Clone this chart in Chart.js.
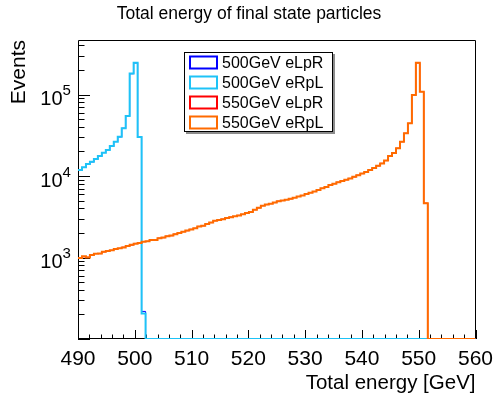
<!DOCTYPE html>
<html>
<head>
<meta charset="utf-8">
<script src="https://cdn.jsdelivr.net/npm/chart.js@4.4.1/dist/chart.umd.min.js"></script>
<style>
  html, body { margin: 0; padding: 0; background: #fff; }
  canvas { display: block; }
</style>
</head>
<body>
<canvas id="energyHist" width="496" height="396"></canvas>
<script>
// histogram binning: 100 bins from 490 to 560 GeV
const binLow = 490
const binWidth = 0.7
const nBins = 100

const seriesLabels = ['500GeV eLpR', '500GeV eRpL', '550GeV eLpR', '550GeV eRpL']
const seriesColors = ['#0000ff', '#1ec3f7', '#ff0000', '#ff6a00']
// eLpR curves sit almost exactly under the eRpL ones
const seriesWidths = [1, 2, 1, 2]

const counts500LR = [
  11900, 12750, 14100, 14900, 16250, 17500, 19400, 20900, 23200, 26500,
  30200, 38600, 54200, 180000, 244000, 30300, 218, 0, 0, 0,
  0, 0, 0, 0, 0, 0, 0, 0, 0, 0,
  0, 0, 0, 0, 0, 0, 0, 0, 0, 0,
  0, 0, 0, 0, 0, 0, 0, 0, 0, 0,
  0, 0, 0, 0, 0, 0, 0, 0, 0, 0,
  0, 0, 0, 0, 0, 0, 0, 0, 0, 0,
  0, 0, 0, 0, 0, 0, 0, 0, 0, 0,
  0, 0, 0, 0, 0, 0, 0, 0, 0, 0,
  0, 0, 0, 0, 0, 0, 0, 0, 0, 0
]
const counts500RL = [
  11850, 12790, 14030, 14970, 16170, 17590, 19320, 20840, 23330, 26370,
  30350, 38470, 54490, 181100, 245500, 30100, 205, 0, 0, 0,
  0, 0, 0, 0, 0, 0, 0, 0, 0, 0,
  0, 0, 0, 0, 0, 0, 0, 0, 0, 0,
  0, 0, 0, 0, 0, 0, 0, 0, 0, 0,
  0, 0, 0, 0, 0, 0, 0, 0, 0, 0,
  0, 0, 0, 0, 0, 0, 0, 0, 0, 0,
  0, 0, 0, 0, 0, 0, 0, 0, 0, 0,
  0, 0, 0, 0, 0, 0, 0, 0, 0, 0,
  0, 0, 0, 0, 0, 0, 0, 0, 0, 0
]
const counts550LR = [
  975, 1020, 1010, 1060, 1120, 1115, 1170, 1210, 1225, 1280,
  1295, 1340, 1390, 1420, 1490, 1505, 1570, 1580, 1620, 1650,
  1730, 1750, 1830, 1850, 1940, 1990, 2075, 2130, 2220, 2280,
  2410, 2450, 2580, 2680, 2830, 2870, 2960, 3040, 3140, 3190,
  3290, 3380, 3520, 3620, 3860, 4060, 4330, 4460, 4590, 4720,
  4910, 5000, 5150, 5240, 5450, 5610, 5770, 6010, 6260, 6450,
  6780, 7060, 7350, 7740, 8060, 8390, 8730, 9000, 9350, 9750,
  10250, 10700, 11250, 11870, 12620, 13310, 14320, 15460, 17620, 19100,
  21930, 26320, 33480, 44300, 98400, 244000, 108500, 4650, 0, 0,
  0, 0, 0, 0, 0, 0, 0, 0, 0, 0
]
const counts550RL = [
  986, 1040, 1000, 1070, 1110, 1120, 1175, 1200, 1230, 1275,
  1300, 1330, 1380, 1430, 1480, 1510, 1560, 1585, 1640, 1645,
  1720, 1760, 1820, 1860, 1930, 1995, 2065, 2140, 2210, 2290,
  2400, 2455, 2570, 2690, 2820, 2885, 2950, 3055, 3125, 3200,
  3275, 3390, 3510, 3630, 3845, 4075, 4315, 4470, 4570, 4730,
  4900, 5010, 5130, 5250, 5430, 5620, 5750, 6030, 6240, 6460,
  6760, 7080, 7330, 7760, 8040, 8410, 8710, 9020, 9330, 9770,
  10230, 10720, 11220, 11890, 12590, 13340, 14290, 15490, 17580, 19150,
  21880, 26370, 33400, 44400, 98700, 245000, 108000, 4620, 0, 0,
  0, 0, 0, 0, 0, 0, 0, 0, 0, 0
]

const xTickValues = [490, 500, 510, 520, 530, 540, 550, 560]
const yTickValues = [1e3, 1e4, 1e5]
const yTickExponents = ['3', '4', '5']

const yMin = 100
const yMax = 4.67e5
const fontFamily = '"Liberation Sans", Arial, Helvetica, sans-serif'

// step outline: one point per bin low edge, plus the last high edge
function histPoints(counts) {
  const pts = counts.map((c, i) => ({ x: binLow + i * binWidth, y: c > 0 ? c : yMin }))
  const last = counts[nBins - 1]
  pts.push({ x: binLow + nBins * binWidth, y: last > 0 ? last : yMin })
  return pts
}

const allCounts = [counts500LR, counts500RL, counts550LR, counts550RL]

const datasets = allCounts.map((counts, i) => ({
  label: seriesLabels[i],
  data: histPoints(counts),
  borderColor: seriesColors[i],
  backgroundColor: seriesColors[i],
  borderWidth: seriesWidths[i],
  pointRadius: 0,
  stepped: true,
  fill: false,
  borderJoinStyle: 'miter',
  order: 3 - i
}))

// ROOT-like frame, inward ticks, 10^n labels, titles and the boxed legend
const framePlugin = {
  id: 'frame',
  beforeDatasetsDraw(chart) {
    const { ctx, chartArea: a, scales: { x, y } } = chart
    ctx.save()
    ctx.strokeStyle = '#000'
    ctx.lineWidth = 1
    ctx.beginPath()
    ctx.rect(Math.round(a.left) + 0.5, Math.round(a.top) + 0.5,
      Math.round(a.right - a.left) - 1, Math.round(a.bottom - a.top) - 1)
    ctx.stroke()
    ctx.beginPath()
    for (let v = 490; v <= 560; v += 2) {
      const px = Math.round(x.getPixelForValue(v)) + 0.5
      const len = (v % 10 === 0) ? 9 : 4.5
      ctx.moveTo(px, a.bottom)
      ctx.lineTo(px, a.bottom - len)
    }
    for (let e = 2; e <= 5; e++) {
      for (let m = 1; m <= 9; m++) {
        const v = m * Math.pow(10, e)
        if (v < yMin || v > yMax) continue
        const py = Math.round(y.getPixelForValue(v)) + 0.5
        const len = m === 1 ? 12 : 6.5
        ctx.moveTo(a.left, py)
        ctx.lineTo(a.left + len, py)
      }
    }
    ctx.stroke()

    // y tick labels as 10 with a raised exponent
    ctx.fillStyle = '#000'
    yTickValues.forEach((v, i) => {
      const py = y.getPixelForValue(v)
      ctx.font = '20px ' + fontFamily
      ctx.textAlign = 'right'
      ctx.textBaseline = 'alphabetic'
      ctx.fillText('10', a.left - 15.5, py + 10.5)
      ctx.font = '15px ' + fontFamily
      ctx.textAlign = 'left'
      ctx.fillText(yTickExponents[i], a.left - 15.5, py + 0.5)
    })

    // x axis title, right aligned to the frame
    ctx.font = '20.5px ' + fontFamily
    ctx.textAlign = 'right'
    ctx.textBaseline = 'middle'
    ctx.fillText('Total energy [GeV]', a.right, 383)

    // plot title
    ctx.font = '17.5px ' + fontFamily
    ctx.textAlign = 'center'
    ctx.fillText('Total energy of final state particles', 249, 14)
    ctx.restore()
  },
  afterDraw(chart) {
    const { ctx } = chart
    const lx = 184, ly = 52, lw = 149, lh = 80
    ctx.save()
    ctx.fillStyle = '#8c8c8c'
    ctx.fillRect(lx + 2, ly + 2, lw, lh)
    ctx.fillStyle = '#fff'
    ctx.fillRect(lx, ly, lw, lh)
    ctx.strokeStyle = '#000'
    ctx.lineWidth = 1
    ctx.strokeRect(lx + 0.5, ly + 0.5, lw - 1, lh - 1)
    ctx.font = '16px ' + fontFamily
    ctx.textBaseline = 'middle'
    ctx.textAlign = 'left'
    chart.data.datasets.forEach((ds, i) => {
      const yc = ly + 10.5 + i * 20
      ctx.strokeStyle = ds.borderColor
      ctx.lineWidth = 2
      ctx.strokeRect(lx + 6, yc - 6, 27, 12)
      ctx.fillStyle = '#000'
      ctx.fillText(ds.label, lx + 38, yc + 1)
    })
    ctx.restore()
  }
}

const ctx = document.getElementById('energyHist')
// eslint-disable-next-line no-unused-vars
const energyHist = new Chart(ctx, {
  type: 'line',
  data: { datasets: datasets },
  options: {
    responsive: false,
    animation: false,
    layout: { padding: { left: 0, right: 20.5, top: 40, bottom: 0 } },
    plugins: {
      legend: { display: false },
      tooltip: { enabled: false },
      title: { display: false }
    },
    scales: {
      x: {
        type: 'linear',
        min: 490,
        max: 560,
        grid: { display: false },
        border: { display: false },
        afterBuildTicks: (s) => { s.ticks = xTickValues.map(v => ({ value: v })) },
        afterFit: (s) => { s.height = 57 },
        ticks: {
          color: '#000',
          font: { family: fontFamily, size: 21 },
          padding: 0,
          maxRotation: 0,
          autoSkip: false
        }
      },
      y: {
        type: 'logarithmic',
        min: yMin,
        max: yMax,
        grid: { display: false },
        border: { display: false },
        afterBuildTicks: (s) => { s.ticks = yTickValues.map(v => ({ value: v })) },
        afterFit: (s) => { s.width = 78 },
        ticks: { display: false },
        title: {
          display: true,
          text: 'Events',
          align: 'end',
          color: '#000',
          font: { family: fontFamily, size: 21 },
          padding: { top: 7, bottom: 0 }
        }
      }
    }
  },
  plugins: [framePlugin]
})
</script>
</body>
</html>
